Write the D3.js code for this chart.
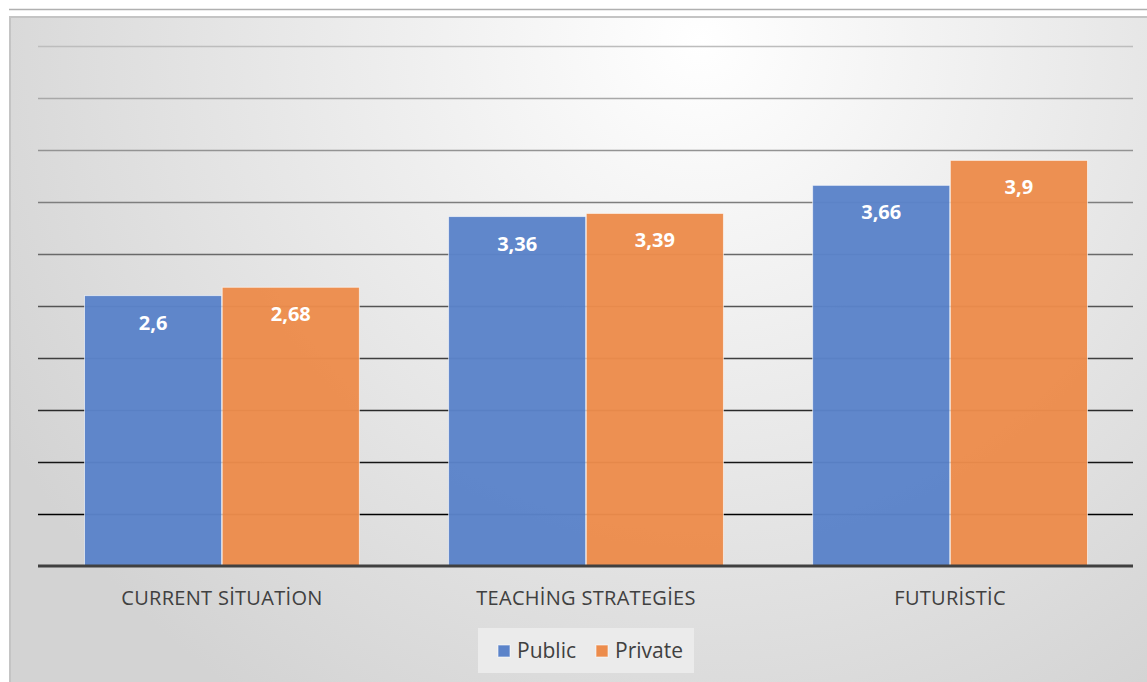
<!DOCTYPE html>
<html>
<head>
<meta charset="utf-8">
<script src="https://cdn.jsdelivr.net/npm/d3@7"></script>
<style>
  body { margin: 0; background: #fff; }
  svg { display: block; font-family: "Open Sans", "Noto Sans", sans-serif; }
</style>
</head>
<body>
<script>
// chart data
const categories = ["CURRENT SİTUATİON", "TEACHİNG STRATEGİES", "FUTURİSTİC"];
const seriesNames = ["Public", "Private"];
const publicValues = [2.6, 3.36, 3.66];
const privateValues = [2.68, 3.39, 3.9];
const gridTicks = [0.5, 1, 1.5, 2, 2.5, 3, 3.5, 4, 4.5, 5];

const colors = { Public: "#5b83c9", Private: "#ec8c4c" };

const W = 1147, H = 682;
const svg = d3.select("body").append("svg")
    .attr("width", W).attr("height", H);

const defs = svg.append("defs");
const grad = defs.append("radialGradient")
    .attr("id", "bg")
    .attr("gradientUnits", "userSpaceOnUse")
    .attr("cx", 700).attr("cy", 40).attr("r", 800);
grad.append("stop").attr("offset", "0%").attr("stop-color", "#ffffff");
grad.append("stop").attr("offset", "100%").attr("stop-color", "#d3d3d3");

// top rule and panel
svg.append("line")
    .attr("x1", 9).attr("x2", W).attr("y1", 9.5).attr("y2", 9.5)
    .attr("stroke", "#b0b0b0").attr("stroke-width", 1.5);
svg.append("rect")
    .attr("x", 10).attr("y", 17).attr("width", W).attr("height", H)
    .attr("fill", "url(#bg)")
    .attr("stroke", "#c4c4c4").attr("stroke-width", 2);

const margin = { left: 38, right: W - 1133, top: 46, bottom: H - 566 };

const x = d3.scaleBand()
    .domain(categories)
    .range([margin.left + 1, W - margin.right])
    .paddingInner(0.245)
    .paddingOuter(0.125);
const xs = d3.scaleBand()
    .domain(seriesNames)
    .range([0, x.bandwidth()])
    .paddingInner(0.004);
const y = d3.scaleLinear()
    .domain([0, 5])
    .range([566, 46]);

const lineColor = d3.scaleLinear()
    .domain([5, 0.5])
    .range(["#bdbdbd", "#000000"])
    .interpolate(d3.interpolateRgb);

// gridlines
svg.append("g")
    .selectAll("line")
    .data(gridTicks)
    .join("line")
      .attr("x1", margin.left)
      .attr("x2", W - margin.right)
      .attr("y1", d => Math.round(y(d)) + 0.5)
      .attr("y2", d => Math.round(y(d)) + 0.5)
      .attr("stroke", d => lineColor(d))
      .attr("stroke-width", 1.5);

const rows = categories.map((c, i) => ({
  category: c,
  values: [
    { key: "Public", value: publicValues[i] },
    { key: "Private", value: privateValues[i] }
  ]
}));

const groups = svg.append("g")
    .selectAll("g")
    .data(rows)
    .join("g")
      .attr("transform", d => `translate(${x(d.category)},0)`);

groups.selectAll("rect")
    .data(d => d.values)
    .join("rect")
      .attr("x", d => xs(d.key))
      .attr("y", d => y(d.value))
      .attr("width", xs.bandwidth())
      .attr("height", d => y(0) - y(d.value))
      .attr("fill", d => colors[d.key])
      .attr("fill-opacity", 0.97)
      .attr("stroke", "#ffffff")
      .attr("stroke-opacity", 0.6)
      .attr("stroke-width", 1);

groups.selectAll("text")
    .data(d => d.values)
    .join("text")
      .attr("x", d => xs(d.key) + xs.bandwidth() / 2)
      .attr("y", d => y(d.value) + 34)
      .attr("text-anchor", "middle")
      .attr("fill", "#ffffff")
      .attr("font-weight", "bold")
      .attr("font-size", 20)
      .text(d => String(d.value).replace(".", ","));

// baseline
svg.append("line")
    .attr("x1", margin.left).attr("x2", W - margin.right)
    .attr("y1", y(0)).attr("y2", y(0))
    .attr("stroke", "#404040").attr("stroke-width", 3);

// category axis
const xAxis = svg.append("g")
    .attr("transform", `translate(0,${y(0)})`)
    .call(d3.axisBottom(x).tickSize(0).tickPadding(0));
xAxis.select(".domain").remove();
xAxis.selectAll("text")
    .attr("dy", 0)
    .attr("y", 39)
    .attr("fill", "#404040")
    .attr("font-size", 20)
    .attr("font-family", "\"Open Sans\", sans-serif")
    .attr("letter-spacing", 0.3);

// legend
const legend = svg.append("g").attr("transform", "translate(478,628)");
legend.append("rect")
    .attr("width", 216).attr("height", 45)
    .attr("fill", "#ebebeb");
const items = legend.selectAll("g")
    .data(seriesNames)
    .join("g")
      .attr("transform", (d, i) => `translate(${i === 0 ? 20 : 118},0)`);
items.append("rect")
    .attr("x", 0).attr("y", 17)
    .attr("width", 12).attr("height", 12)
    .attr("fill", d => colors[d])
    .attr("stroke", "#ffffff").attr("stroke-opacity", 0.6);
items.append("text")
    .attr("x", 19).attr("y", 30)
    .attr("fill", "#404040")
    .attr("font-size", 21)
    .text(d => d);
</script>
</body>
</html>
